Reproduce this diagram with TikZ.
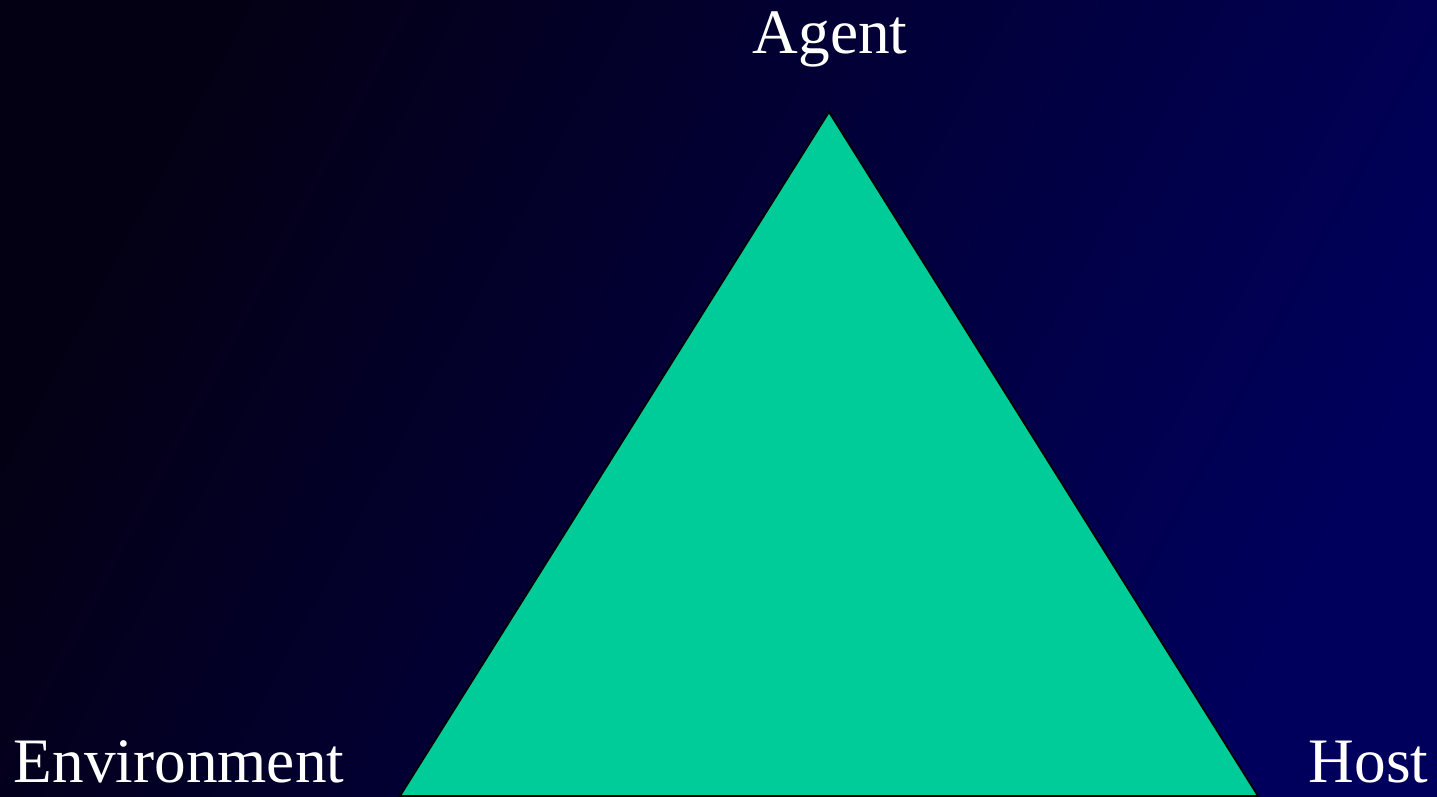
\documentclass[tikz,border=0pt]{standalone}
\usepackage{fontspec}
\setmainfont{Liberation Serif}
\usetikzlibrary{positioning}
\definecolor{trigreen}{HTML}{00CC99}
\definecolor{bgleft}{HTML}{040014}
\definecolor{bgmid}{HTML}{00003C}
\definecolor{bgright}{HTML}{00005C}
\tikzset{
    lbl/.style={text=white, inner sep=0pt, font=\fontsize{18}{21}\selectfont},
    tri/.style={draw=black, fill=trigreen, line width=0.5pt, line join=miter},
}

\begin{document}
\begin{tikzpicture}[x=0.01cm, y=-0.01cm]
    % Background
    \useasboundingbox (0,0) rectangle (1437,796);
    \clip (0,0) rectangle (1437,796);
    \shade[left color=bgleft, middle color=bgmid, right color=bgright, shading angle=62] (0,0) rectangle (1437,796);

    % Triangle
    \coordinate (apex) at (829,112);
    \coordinate (bleft) at (400,796);
    \coordinate (bright) at (1258,796);
    \draw[tri] (apex) -- (bleft) -- (bright) -- cycle;

    % Labels
    \node[lbl, anchor=base] (agent) at (830,53) {Agent};
    \node[lbl, anchor=base west] (env) at (13,782) {Environment};
    \node[lbl, anchor=base east] (host) at (1429,782) {Host};
\end{tikzpicture}
\end{document}
